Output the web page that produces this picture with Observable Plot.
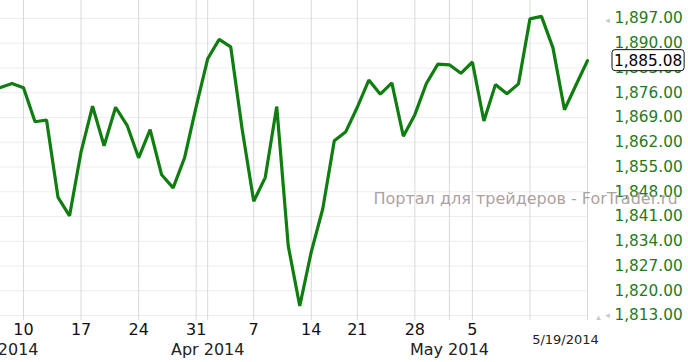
<!DOCTYPE html>
<html>
<head>
<meta charset="utf-8">
<script src="https://cdn.jsdelivr.net/npm/d3@7"></script>
<script src="https://cdn.jsdelivr.net/npm/@observablehq/plot@0.6"></script>
<style>
  html, body { margin: 0; padding: 0; background: #fff; overflow: hidden; }
  #chart svg { display: block; }
</style>
</head>
<body>
<div id="chart"></div>
<script>
// Trading days (x axis is a trading-day axis; Apr 18 is a holiday)
const dates = [
  "2014-03-06","2014-03-07","2014-03-10","2014-03-11","2014-03-12","2014-03-13","2014-03-14",
  "2014-03-17","2014-03-18","2014-03-19","2014-03-20","2014-03-21",
  "2014-03-24","2014-03-25","2014-03-26","2014-03-27","2014-03-28",
  "2014-03-31","2014-04-01","2014-04-02","2014-04-03","2014-04-04",
  "2014-04-07","2014-04-08","2014-04-09","2014-04-10","2014-04-11",
  "2014-04-14","2014-04-15","2014-04-16","2014-04-17",
  "2014-04-21","2014-04-22","2014-04-23","2014-04-24","2014-04-25",
  "2014-04-28","2014-04-29","2014-04-30","2014-05-01","2014-05-02",
  "2014-05-05","2014-05-06","2014-05-07","2014-05-08","2014-05-09",
  "2014-05-12","2014-05-13","2014-05-14","2014-05-15","2014-05-16",
  "2014-05-19"
];
const values = [
  1877.5, 1878.6, 1877.4, 1867.8, 1868.3, 1846.4, 1841.2,
  1859.3, 1872.2, 1861.0, 1871.9, 1866.8,
  1857.6, 1865.6, 1852.8, 1849.1, 1857.7,
  1872.1, 1885.6, 1891.1, 1889.0, 1865.6,
  1845.3, 1852.0, 1872.1, 1832.7, 1815.7,
  1831.0, 1843.2, 1862.4, 1865.0,
  1871.9, 1879.6, 1875.6, 1878.8, 1863.7,
  1869.8, 1878.6, 1884.1, 1883.9, 1881.5,
  1884.7, 1868.0, 1878.3, 1875.7, 1878.5,
  1896.9, 1897.6, 1888.7, 1871.2, 1878.2,
  1885.08
];
const yTicks = [1813, 1820, 1827, 1834, 1841, 1848, 1855, 1862, 1869, 1876, 1883, 1890, 1897];
const dayTickDates = ["2014-03-10","2014-03-17","2014-03-24","2014-03-31","2014-04-07","2014-04-14","2014-04-21","2014-04-28","2014-05-05"];
const dayTickLabels = ["10","17","24","31","7","14","21","28","5"];
const gridDates = ["2014-03-10","2014-03-17","2014-03-24","2014-03-31","2014-04-01","2014-04-07","2014-04-14","2014-04-21","2014-04-28","2014-05-01","2014-05-05","2014-05-12","2014-05-19"];
const monthDates = ["2014-03-06","2014-04-01","2014-05-01"];
const monthLabels = ["Mar 2014","Apr 2014","May 2014"];
const lastDateLabel = "5/19/2014";
const watermark = "Портал для трейдеров - ForTrader.ru";

const idx = d => dates.indexOf(d);
const data = dates.map((d, i) => ({i, d, v: values[i]}));
const dayTicks = dayTickDates.map((d, k) => ({i: idx(d), label: dayTickLabels[k]}));
const monthTicks = monthDates.map((d, k) => ({i: idx(d), label: monthLabels[k]}));
const gridIdx = gridDates.map(idx);
const last = data[data.length - 1];
const fmt = d3.format(",.2f");

const W = 688, H = 362;
const plot = Plot.plot({
  width: W, height: H,
  marginLeft: 0, marginRight: 101, marginTop: 0, marginBottom: 42,
  style: {fontFamily: "DejaVu Sans, Verdana, sans-serif", fontSize: "15px", background: "#fff", overflow: "visible"},
  x: {domain: [0, dates.length - 1], axis: null},
  y: {domain: [1811.59, 1902.09], axis: null},
  marks: [
    Plot.ruleY(yTicks, {stroke: "#eeeeee", strokeWidth: 1}),
    Plot.ruleX(gridIdx, {stroke: "#d9d9d9", strokeWidth: 1}),
    Plot.line(data, {x: "i", y: "v", stroke: "#0f7d10", strokeWidth: 3.2, strokeLinejoin: "miter"}),
    Plot.axisY({anchor: "right", ticks: yTicks, tickSize: 0, tickPadding: 27, tickFormat: fmt,
      fill: "#1f7a22", fontSize: 15.3, label: null}),
    Plot.text(dayTicks, {x: "i", text: "label", frameAnchor: "bottom", dy: 14, fontSize: 16, fill: "#111"}),
    Plot.text(monthTicks, {x: "i", text: "label", frameAnchor: "bottom", dy: 34, fontSize: 16, fill: "#222"}),
    Plot.text([last], {x: "i", text: () => lastDateLabel, frameAnchor: "bottom", dy: 23, dx: -22, fontSize: 13, fill: "#222"}),
    Plot.text([yTicks[yTicks.length - 1]], {x: () => dates.length - 1, y: d => d, text: () => "◂", dx: 20, dy: 2, fontSize: 9, fill: "#c8c8c8"}),
    Plot.text([yTicks[0]], {x: () => dates.length - 1, y: d => d, text: () => "▴", dx: 11, dy: 2, fontSize: 9, fill: "#c8c8c8"}),
    Plot.text([yTicks[0]], {x: () => dates.length - 1, y: d => d, text: () => "◂", dx: 20, dy: 0, fontSize: 9, fill: "#c8c8c8"}),
    Plot.text([watermark], {text: d => d, frameAnchor: "top-left", dx: 373, dy: 192, textAnchor: "start", fontSize: 16, fill: "#a49494", fillOpacity: 0.9})
  ]
});
document.getElementById("chart").appendChild(plot);

// Last-value box on the right axis, positioned through Plot's scales
const sx = plot.scale("x"), sy = plot.scale("y");
const svg = d3.select(plot);
const bx = sx.apply(last.i) + 27, by = sy.apply(last.v);
const g = svg.append("g").attr("text-anchor", "start");
const t = g.append("text")
  .attr("x", bx).attr("y", by).attr("dy", "0.35em")
  .attr("text-anchor", "start")
  .attr("font-size", 15.3).attr("fill", "#000")
  .text(fmt(last.v));
const bb = t.node().getBBox();
g.insert("rect", "text")
  .attr("x", bb.x - 2).attr("y", by - 10.5)
  .attr("width", Math.min(bb.width + 4, W - 1 - (bb.x - 2))).attr("height", 21)
  .attr("rx", 3).attr("fill", "#fff").attr("stroke", "#111").attr("stroke-width", 1);
</script>
</body>
</html>
